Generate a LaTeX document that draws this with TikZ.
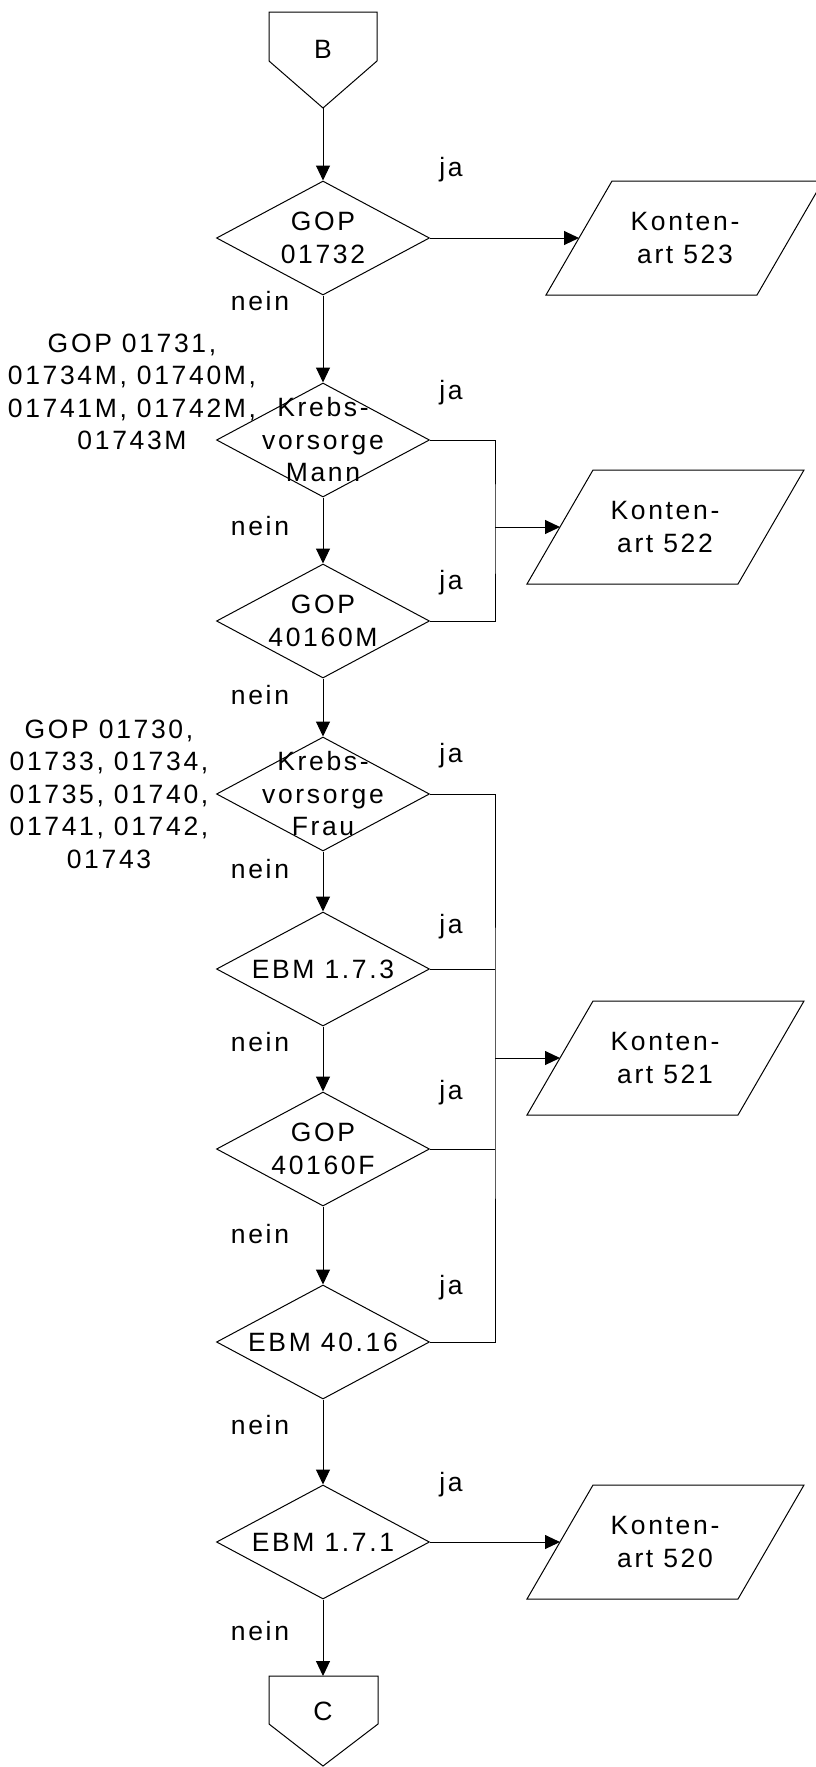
\documentclass[tikz,border=0pt]{standalone}
\usepackage{fontspec}
\setmainfont{Liberation Sans}[LetterSpace=10]
\usetikzlibrary{arrows.meta,shapes.geometric}
\begin{document}
\begin{tikzpicture}[x=1pt,y=-1pt,
  dec/.style={draw, shape=diamond, minimum width=213pt, minimum height=114pt, inner sep=0pt, line width=1pt},
  txt/.style={align=center, inner sep=0pt, font=\fontsize{26.5}{32.5}\selectfont},
  arr/.style={-{Triangle[length=15pt,width=14pt]}, line width=1pt},
  ln/.style={line width=1pt}]
\useasboundingbox (0,0) rectangle (816,1767);
\clip (0,0) rectangle (816,1767);
% B connector
\draw[ln] (269,12) -- (377,12) -- (377,61) -- (323,108) -- (269,61) -- cycle;
\node[txt] (B) at (323,49) {B};
\coordinate (Bpt) at (323,108);
% C connector
\draw[ln] (269,1676) -- (378,1676) -- (378,1724) -- (323,1766) -- (269,1724) -- cycle;
\node[txt] (C) at (323,1711) {C};
\coordinate (Ctop) at (323,1676);
% decisions
\node[dec] (d1) at (323,238) {};
\node[txt] (t1) at (d1) {GOP\\01732};
\node[dec] (d2) at (323,440) {};
\node[txt] (t2) at (d2) {Krebs-\\vorsorge\\Mann};
\node[dec] (d3) at (323,621) {};
\node[txt] (t3) at (d3) {GOP\\40160M};
\node[dec] (d4) at (323,794) {};
\node[txt] (t4) at (d4) {Krebs-\\vorsorge\\Frau};
\node[dec] (d5) at (323,969) {};
\node[txt] (t5) at (d5) {EBM 1.7.3};
\node[dec] (d6) at (323,1149) {};
\node[txt] (t6) at (d6) {GOP\\40160F};
\node[dec] (d7) at (323,1342) {};
\node[txt] (t7) at (d7) {EBM 40.16};
\node[dec] (d8) at (323,1542) {};
\node[txt] (t8) at (d8) {EBM 1.7.1};
% outputs
\draw[ln] (612,181) -- (823,181) -- (757,295) -- (546,295) -- cycle;
\node[txt] (k523) at (685,238) {Konten-\\art 523};
\coordinate (k523w) at (579,238);
\draw[ln] (593,470) -- (804,470) -- (738,584) -- (527,584) -- cycle;
\node[txt] (k522) at (665,527) {Konten-\\art 522};
\coordinate (k522w) at (560,527);
\draw[ln] (593,1001) -- (804,1001) -- (738,1115) -- (527,1115) -- cycle;
\node[txt] (k521) at (665,1058) {Konten-\\art 521};
\coordinate (k521w) at (560,1058);
\draw[ln] (593,1485) -- (804,1485) -- (738,1599) -- (527,1599) -- cycle;
\node[txt] (k520) at (665,1542) {Konten-\\art 520};
\coordinate (k520w) at (560,1542);
% side labels
\node[txt] (g1) at (132,392) {GOP 01731,\\01734M, 01740M,\\01741M, 01742M,\\01743M};
\node[txt] (g2) at (109,794) {GOP 01730,\\01733, 01734,\\01735, 01740,\\01741, 01742,\\01743};
% main flow
\draw[arr] (Bpt) -- (d1.north);
\draw[arr] (d1.south) -- (d2.north);
\draw[arr] (d2.south) -- (d3.north);
\draw[arr] (d3.south) -- (d4.north);
\draw[arr] (d4.south) -- (d5.north);
\draw[arr] (d5.south) -- (d6.north);
\draw[arr] (d6.south) -- (d7.north);
\draw[arr] (d7.south) -- (d8.north);
\draw[arr] (d8.south) -- (Ctop);
% yes branches
\draw[arr] (d1.east) -- (k523w);
\coordinate (bus522) at (495,527);
\draw[ln] (d2.east) -| (bus522) |- (d3.east);
\draw[arr] (bus522) -- (k522w);
\coordinate (bus521) at (495,1058);
\draw[ln] (d4.east) -| (bus521) |- (d7.east);
\draw[ln] (d5.east) -- (d5.east -| bus521);
\draw[ln] (d6.east) -- (d6.east -| bus521);
\draw[arr] (bus521) -- (k521w);
\draw[arr] (d8.east) -- (k520w);
% ja / nein labels
\foreach \n/\y in {1/170,2/393,3/583,4/756,5/927,6/1093,7/1288,8/1485}
  \node[txt] (ja\n) at (451,\y) {ja};
\foreach \n/\y in {1/301,2/526,3/695,4/869,5/1042,6/1234,7/1425,8/1631}
  \node[txt] (nein\n) at (260,\y) {nein};
\end{tikzpicture}
\end{document}
